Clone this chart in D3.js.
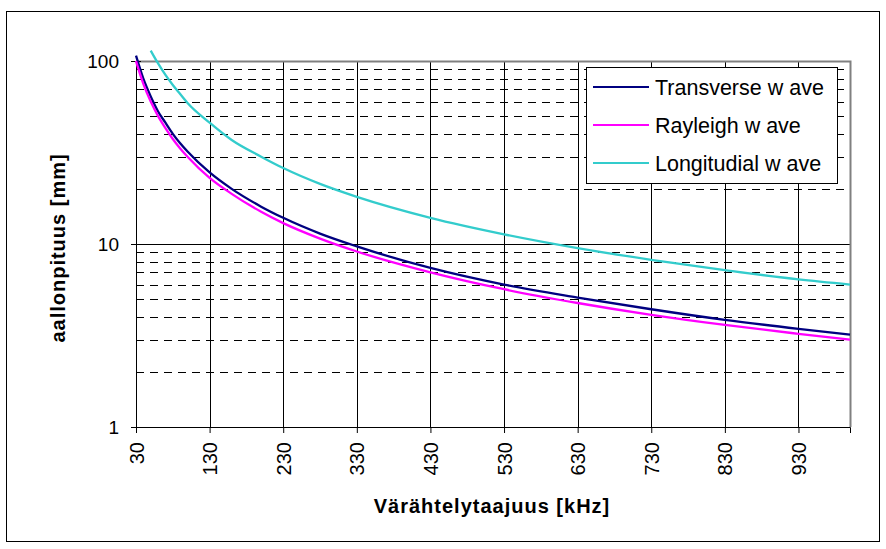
<!DOCTYPE html>
<html>
<head>
<meta charset="utf-8">
<script src="https://cdn.jsdelivr.net/npm/d3@7"></script>
<style>
  html, body { margin: 0; padding: 0; background: #fff; }
  svg { display: block; font-family: Arial, "Liberation Sans", sans-serif; }
</style>
</head>
<body>
<svg id="chart" width="886" height="549"></svg>
<script>
// ---- data ----
const frequencies = [30, 40, 50, 60, 70, 80, 90, 100, 130, 160, 200, 230, 280, 330, 430, 530, 630, 730, 830, 930, 1000];
const transverse   = [107, 80, 64, 53, 46, 40, 35.5, 32, 24.6, 20, 16, 13.9, 11.4, 9.7, 7.4, 6.0, 5.1, 4.4, 3.85, 3.44, 3.2];
const rayleigh     = [100, 75, 60, 50, 43, 37.5, 33.3, 30, 23, 18.8, 15, 13, 10.7, 9.1, 7.0, 5.66, 4.76, 4.1, 3.61, 3.23, 3.0];
const longitudinal = [null, null, 114, 97, 84, 74, 66, 59, 46, 37, 30, 26, 21.3, 18.1, 13.9, 11.3, 9.5, 8.2, 7.2, 6.4, 6.0];
const xTickLabels = [30, 130, 230, 330, 430, 530, 630, 730, 830, 930];
const yMajorTicks = [1, 10, 100];
const yMinorTicks = [2, 3, 4, 5, 6, 7, 8, 9, 20, 30, 40, 50, 60, 70, 80, 90];
const seriesNames = ["Transverse w ave", "Rayleigh w ave", "Longitudial w ave"];
const seriesColors = ["#000080", "#FF00FF", "#33CCCC"];
const seriesValues = [transverse, rayleigh, longitudinal];
const xTitle = "Värähtelytaajuus [kHz]";
const yTitle = "aallonpituus [mm]";

// ---- layout ----
const svg = d3.select("#chart");
const L = 136, T = 61, R = 850, B = 427;

svg.append("rect").attr("x", 6.5).attr("y", 11.5).attr("width", 873).attr("height", 530)
  .attr("fill", "#fff").attr("stroke", "#000").attr("stroke-width", 1);

const x = d3.scaleLinear().domain([30, 1000]).range([L, R]);
const y = d3.scaleLog().domain([1, 100]).range([B, T]);

// minor dashed gridlines
svg.append("g").selectAll("line").data(yMinorTicks).join("line")
  .attr("x1", L).attr("x2", R)
  .attr("y1", d => Math.round(y(d)) + 0.5).attr("y2", d => Math.round(y(d)) + 0.5)
  .attr("stroke", "#000").attr("stroke-width", 1).attr("stroke-dasharray", "8,6");

// major horizontal gridlines
svg.append("g").selectAll("line").data([10]).join("line")
  .attr("x1", L).attr("x2", R)
  .attr("y1", d => Math.round(y(d)) + 0.5).attr("y2", d => Math.round(y(d)) + 0.5)
  .attr("stroke", "#000").attr("stroke-width", 1);

// vertical gridlines
svg.append("g").selectAll("line").data(xTickLabels.slice(1)).join("line")
  .attr("x1", d => Math.round(x(d)) + 0.5).attr("x2", d => Math.round(x(d)) + 0.5)
  .attr("y1", T).attr("y2", B)
  .attr("stroke", "#000").attr("stroke-width", 1);

// plot border (gray top/right)
svg.append("path")
  .attr("d", `M${L},${T + 0.5}H${R + 0.5}V${B}`)
  .attr("fill", "none").attr("stroke", "#808080").attr("stroke-width", 2);

// x axis
const xAxis = d3.axisBottom(x).tickValues(xTickLabels).tickSize(6).tickFormat(d3.format("d"));
const gx = svg.append("g").attr("transform", `translate(0,${B})`).call(xAxis);
gx.select(".domain").attr("stroke", "#000");
gx.selectAll(".tick line").attr("stroke", "#000");
gx.selectAll(".tick text")
  .attr("font-size", 20).attr("fill", "#000")
  .attr("transform", "rotate(-90)")
  .attr("text-anchor", "end")
  .attr("x", -15).attr("y", 0).attr("dy", "0.35em");

// y axis
const yAxis = d3.axisLeft(y).tickValues(yMajorTicks).tickSize(5).tickFormat(d3.format("d"));
const gy = svg.append("g").attr("transform", `translate(${L},0)`).call(yAxis);
gy.select(".domain").attr("stroke", "#000");
gy.selectAll(".tick line").attr("stroke", "#000").attr("x2", -5).attr("x1", 5);
gy.selectAll(".tick text").attr("font-size", 19).attr("fill", "#000").attr("x", -17);

// y minor ticks (inside)
svg.append("g").selectAll("line").data(yMinorTicks).join("line")
  .attr("x1", L).attr("x2", L + 5)
  .attr("y1", d => Math.round(y(d)) + 0.5).attr("y2", d => Math.round(y(d)) + 0.5)
  .attr("stroke", "#000");

// series
const line = d3.line()
  .defined(d => d[1] != null)
  .x(d => x(d[0])).y(d => y(d[1]))
  .curve(d3.curveMonotoneX);

seriesValues.forEach((vals, i) => {
  const pts = frequencies.map((f, j) => [f, vals[j]]);
  svg.append("path").datum(pts)
    .attr("d", line)
    .attr("fill", "none")
    .attr("stroke", seriesColors[i])
    .attr("stroke-width", 2.3);
});

// axis titles
svg.append("text").attr("x", 492).attr("y", 513)
  .attr("text-anchor", "middle").attr("font-weight", "bold").attr("font-size", 20)
  .attr("letter-spacing", 1)
  .text(xTitle);
svg.append("text")
  .attr("transform", "translate(65,248) rotate(-90)")
  .attr("text-anchor", "middle").attr("font-weight", "bold").attr("font-size", 20)
  .attr("letter-spacing", 1)
  .text(yTitle);

// legend
const lg = svg.append("g");
lg.append("rect").attr("x", 586.5).attr("y", 67.5).attr("width", 251).attr("height", 116)
  .attr("fill", "#fff").attr("stroke", "#000").attr("stroke-width", 1);
seriesNames.forEach((name, i) => {
  const yy = 87 + i * 38;
  lg.append("line").attr("x1", 593).attr("x2", 649).attr("y1", yy).attr("y2", yy)
    .attr("stroke", seriesColors[i]).attr("stroke-width", 2);
  lg.append("text").attr("x", 655).attr("y", yy).attr("dy", "0.36em")
    .attr("font-size", 21.5).attr("fill", "#000").text(name);
});
</script>
</body>
</html>
